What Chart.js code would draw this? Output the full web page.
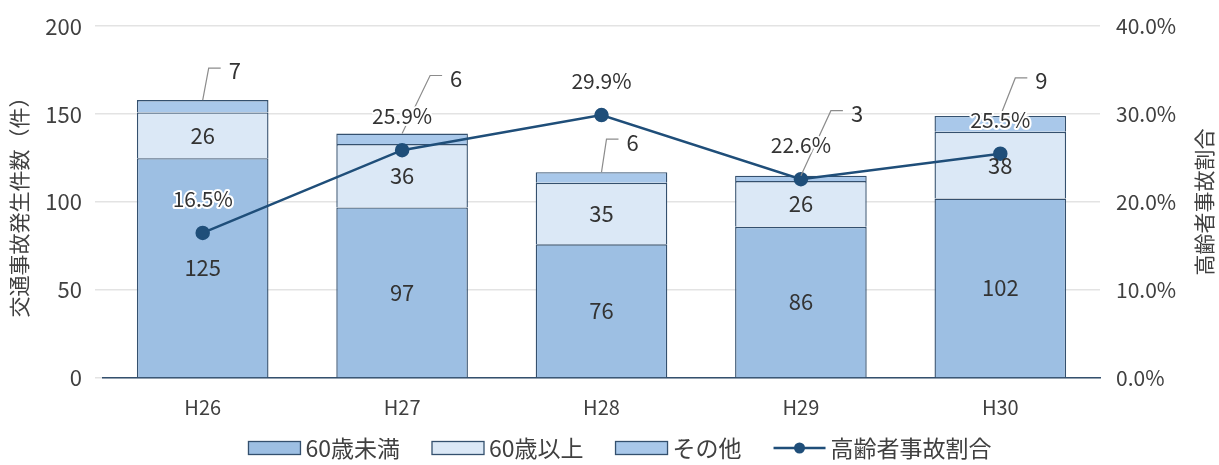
<!DOCTYPE html>
<html>
<head>
<meta charset="utf-8">
<script src="https://cdn.jsdelivr.net/npm/chart.js@4/dist/chart.umd.min.js"></script>
<style>
	body { margin: 0; background: #fff; }
	#wrap { width: 1219px; height: 465px; }
</style>
</head>
<body>
<div id="wrap"><canvas id="accidentChart"></canvas></div>
<script>
// data
const years = ['H26', 'H27', 'H28', 'H29', 'H30'];
const under60 = [125, 97, 76, 86, 102];
const over60 = [26, 36, 35, 26, 38];
const others = [7, 6, 6, 3, 9];
const elderlyRate = [16.5, 25.9, 29.9, 22.6, 25.5];
const countTicks = [0, 50, 100, 150, 200];
const rateTicks = [0, 10, 20, 30, 40];

// where the callout for "その他" bends (relative to top of bar)
const calloutBend = [[6, -32], [28, -58], [5, -33], [30, -65], [15, -38]];

const FONT = "'Noto Sans CJK JP', 'Noto Sans', sans-serif";
const textColor = '#404040';
const lineColor = '#1f4e79';
const borderColor = '#34506e';

// draws one legend swatch at (x, y-center)
function drawSwatch(ctx, ds, x, y) {
	if (ds.type === 'line') {
		ctx.strokeStyle = lineColor;
		ctx.lineWidth = 2.5;
		ctx.beginPath();
		ctx.moveTo(x, y);
		ctx.lineTo(x + 52, y);
		ctx.stroke();
		ctx.fillStyle = lineColor;
		ctx.beginPath();
		ctx.arc(x + 26, y, 5.5, 0, Math.PI * 2);
		ctx.fill();
	} else {
		ctx.fillStyle = ds.backgroundColor;
		ctx.fillRect(x, y - 6.5, 52, 13);
		ctx.strokeStyle = borderColor;
		ctx.lineWidth = 1.3;
		ctx.strokeRect(x, y - 6.5, 52, 13);
	}
}

const labelPlugin = {
	id: 'labelPlugin',
	afterDatasetsDraw(chart) {
		const ctx = chart.ctx;
		ctx.save();
		ctx.textAlign = 'center';
		ctx.textBaseline = 'middle';

		// values inside bars
		ctx.font = '22px ' + FONT;
		ctx.fillStyle = '#333';
		[0, 1].forEach(i => {
			chart.getDatasetMeta(i).data.forEach((bar, j) => {
				const v = chart.data.datasets[i].data[j];
				ctx.fillText(String(v), bar.x, (bar.y + bar.base) / 2);
			});
		});

		// callouts for その他
		chart.getDatasetMeta(2).data.forEach((bar, j) => {
			const [dx, dy] = calloutBend[j];
			ctx.strokeStyle = '#8c8c8c';
			ctx.lineWidth = 1.2;
			ctx.beginPath();
			ctx.moveTo(bar.x, bar.y);
			ctx.lineTo(bar.x + dx, bar.y + dy);
			ctx.lineTo(bar.x + dx + 12, bar.y + dy);
			ctx.stroke();
			ctx.textAlign = 'left';
			ctx.fillStyle = '#333';
			ctx.fillText(String(others[j]), bar.x + dx + 20, bar.y + dy + 3);
		});

		// rate labels above points
		ctx.textAlign = 'center';
		ctx.font = '21px ' + FONT;
		chart.getDatasetMeta(3).data.forEach((pt, j) => {
			const t = elderlyRate[j].toFixed(1) + '%';
			ctx.strokeStyle = '#fff';
			ctx.lineWidth = 4;
			ctx.lineJoin = 'round';
			ctx.strokeText(t, pt.x, pt.y - 34);
			ctx.fillStyle = '#333';
			ctx.fillText(t, pt.x, pt.y - 34);
		});
		ctx.restore();
	},
	afterDraw(chart) {
		const ctx = chart.ctx;
		const area = chart.chartArea;

		// right axis title, reading bottom to top
		ctx.save();
		ctx.translate(1204, (area.top + area.bottom) / 2);
		ctx.rotate(-Math.PI / 2);
		ctx.textAlign = 'center';
		ctx.textBaseline = 'middle';
		ctx.font = '21px ' + FONT;
		ctx.fillStyle = textColor;
		ctx.fillText('高齢者事故割合', 0, 0);
		ctx.restore();

		// legend
		ctx.save();
		ctx.font = '23px ' + FONT;
		ctx.textBaseline = 'middle';
		ctx.textAlign = 'left';
		const dsets = chart.data.datasets;
		const widths = dsets.map(ds => 52 + 5 + ctx.measureText(ds.label).width);
		const total = widths.reduce((a, b) => a + b, 0) + 32 * (dsets.length - 1);
		let x = 620 - total / 2;
		const y = 448;
		dsets.forEach((ds, i) => {
			drawSwatch(ctx, ds, x, y);
			ctx.fillStyle = textColor;
			ctx.fillText(ds.label, x + 57, y);
			x += widths[i] + 32;
		});
		ctx.restore();
	}
};

const chart = new Chart(document.getElementById('accidentChart').getContext('2d'), {
	type: 'bar',
	data: {
		labels: years,
		datasets: [
			{
				label: '60歳未満',
				data: under60,
				backgroundColor: '#9dbfe3',
				borderColor: borderColor,
				borderWidth: 1.4,
				stack: 's',
				yAxisID: 'y'
			},
			{
				label: '60歳以上',
				data: over60,
				backgroundColor: '#dbe8f6',
				borderColor: borderColor,
				borderWidth: 1.4,
				stack: 's',
				yAxisID: 'y'
			},
			{
				label: 'その他',
				data: others,
				backgroundColor: '#a9c8ea',
				borderColor: borderColor,
				borderWidth: 1.4,
				stack: 's',
				yAxisID: 'y'
			},
			{
				type: 'line',
				label: '高齢者事故割合',
				data: elderlyRate,
				borderColor: lineColor,
				backgroundColor: lineColor,
				borderWidth: 2.5,
				pointStyle: 'circle',
				pointRadius: 6,
				pointBackgroundColor: lineColor,
				pointBorderColor: lineColor,
				yAxisID: 'y2',
				order: -1
			}
		]
	},
	options: {
		responsive: true,
		maintainAspectRatio: false,
		animation: false,
		layout: { padding: { top: 8, left: 6, right: 0, bottom: 37 } },
		datasets: {
			bar: { categoryPercentage: 0.66, barPercentage: 1 }
		},
		plugins: {
			legend: { display: false },
			tooltip: { enabled: false }
		},
		scales: {
			x: {
				stacked: true,
				grid: { display: false },
				border: { color: borderColor, width: 1.5 },
				ticks: { color: textColor, font: { family: FONT, size: 20 }, padding: 9 }
			},
			y: {
				stacked: true,
				min: 0,
				max: 200,
				afterBuildTicks: s => { s.ticks = countTicks.map(v => ({ value: v })); },
				afterFit: s => { s.width = 97; },
				grid: { color: '#e3e3e3', lineWidth: 1.5 },
				border: { display: false },
				ticks: { color: textColor, font: { family: FONT, size: 22 }, padding: 13 },
				title: {
					display: true,
					text: '交通事故発生件数（件）',
					color: textColor,
					font: { family: FONT, size: 21 },
					padding: { top: 0, bottom: 2 }
				}
			},
			y2: {
				position: 'right',
				min: 0,
				max: 40,
				afterBuildTicks: s => { s.ticks = rateTicks.map(v => ({ value: v })); },
				afterFit: s => { s.width = 119; },
				grid: { display: false },
				border: { display: false },
				ticks: {
					color: textColor,
					font: { family: FONT, size: 21 },
					padding: 8,
					callback: v => v.toFixed(1) + '%'
				}
			}
		}
	},
	plugins: [labelPlugin]
});
</script>
</body>
</html>
